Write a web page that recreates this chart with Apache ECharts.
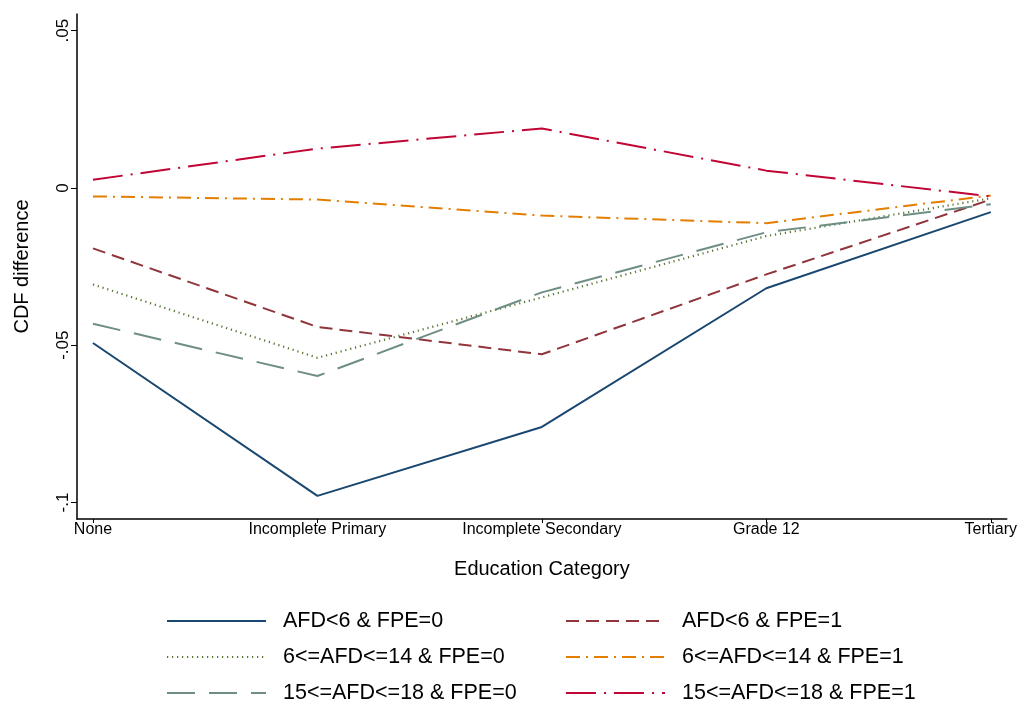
<!DOCTYPE html>
<html>
<head>
<meta charset="utf-8">
<script src="https://cdn.jsdelivr.net/npm/echarts@6/dist/echarts.min.js"></script>
<style>
html,body{margin:0;padding:0;background:#fff;}
#chart{width:1020px;height:704px;}
</style>
</head>
<body>
<div id="chart"></div>
<script>
const categories = ['None', 'Incomplete Primary', 'Incomplete Secondary', 'Grade 12', 'Tertiary'];
const yTicks = [-0.1, -0.05, 0, 0.05];
const yTickLabels = ['-.1', '-.05', '0', '.05'];
const seriesNames = ['AFD<6 & FPE=0', 'AFD<6 & FPE=1', '6<=AFD<=14 & FPE=0', '6<=AFD<=14 & FPE=1', '15<=AFD<=18 & FPE=0', '15<=AFD<=18 & FPE=1'];
const afd6_fpe0 = [-0.0493, -0.0979, -0.0760, -0.0319, -0.0077];
const afd6_fpe1 = [-0.0192, -0.0442, -0.0529, -0.0275, -0.0037];
const afd14_fpe0 = [-0.0307, -0.0540, -0.0348, -0.0153, -0.0033];
const afd14_fpe1 = [-0.0027, -0.0037, -0.0088, -0.0112, -0.0024];
const afd18_fpe0 = [-0.0432, -0.0598, -0.0332, -0.0141, -0.0052];
const afd18_fpe1 = [0.0026, 0.0125, 0.0189, 0.0055, -0.0027];

const FONT = '"Liberation Sans", Arial, sans-serif';
const styles = [
  {color: '#1a476f', type: 'solid'},
  {color: '#90353b', type: [13, 7]},
  {color: '#55752f', type: [1.2, 3.8]},
  {color: '#e37e00', type: [14, 6, 2, 6]},
  {color: '#6e8e84', type: [28, 14]},
  {color: '#c10534', type: [30, 8, 2, 8]}
];
const values = [afd6_fpe0, afd6_fpe1, afd14_fpe0, afd14_fpe1, afd18_fpe0, afd18_fpe1];

const pad = 16 / 225;
const series = values.map((vals, i) => ({
  name: seriesNames[i],
  type: 'line',
  symbol: 'none',
  showSymbol: false,
  silent: true,
  animation: false,
  data: vals.map((v, j) => [j, v]),
  lineStyle: {color: styles[i].color, type: styles[i].type, width: i === 2 ? 2.2 : 2},
  itemStyle: {color: styles[i].color}
}));

const legendPos = [[166, 610], [565, 610], [166, 646], [565, 646], [166, 682], [565, 682]];
const legends = seriesNames.map((n, i) => ({
  left: legendPos[i][0],
  top: legendPos[i][1],
  padding: 0,
  itemWidth: 99,
  itemHeight: 24,
  itemGap: 0,
  selectedMode: false,
  itemStyle: {opacity: 0},
  data: [n],
  textStyle: {fontFamily: FONT, fontSize: 21.5, color: '#000', padding: [0, 0, 0, 12]}
}));

const chart = echarts.init(document.getElementById('chart'), null, {renderer: 'canvas'});
chart.setOption({
  backgroundColor: '#fff',
  animation: false,
  grid: {left: 77, right: 12, top: 14, bottom: 185, containLabel: false},
  xAxis: {
    type: 'value',
    min: -pad,
    max: 4 + pad,
    name: 'Education Category',
    nameLocation: 'middle',
    nameGap: 40,
    nameTextStyle: {fontFamily: FONT, fontSize: 20, color: '#000'},
    axisLine: {show: true, onZero: false, lineStyle: {color: '#000', width: 1.5}},
    axisTick: {show: true, customValues: [0, 1, 2, 3, 4], length: 4, inside: false, lineStyle: {color: '#000'}},
    axisLabel: {customValues: [0, 1, 2, 3, 4], formatter: v => categories[Math.round(v)], fontFamily: FONT, fontSize: 16, color: '#000', margin: 3},
    splitLine: {show: false}
  },
  yAxis: {
    type: 'value',
    min: -0.10526,
    max: 0.0553,
    name: 'CDF difference',
    nameLocation: 'middle',
    nameGap: 45,
    nameRotate: 90,
    nameTextStyle: {fontFamily: FONT, fontSize: 20, color: '#000'},
    axisLine: {show: true, onZero: false, lineStyle: {color: '#000', width: 1.5}},
    axisTick: {show: true, customValues: yTicks, length: 6, lineStyle: {color: '#000'}},
    axisLabel: {customValues: yTicks, formatter: v => yTickLabels[yTicks.findIndex(t => Math.abs(t - v) < 1e-6)], rotate: 90, fontFamily: FONT, fontSize: 17, color: '#000', margin: 5},
    splitLine: {show: false}
  },
  legend: legends,
  series: series
});
</script>
</body>
</html>
